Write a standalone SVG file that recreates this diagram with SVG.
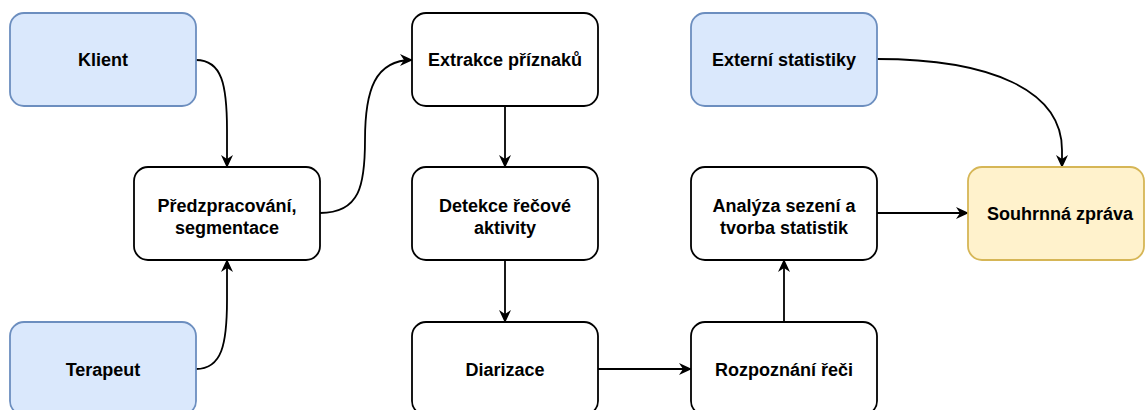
<svg xmlns="http://www.w3.org/2000/svg" width="1146" height="410" viewBox="0 0 1146 410">
  <style>
    .box { stroke-width: 1.8; }
    .plain { fill: #ffffff; stroke: #000000; }
    .input { fill: #dae8fc; stroke: #6c8ebf; }
    .output { fill: #fff2cc; stroke: #d6b656; }
    .label { font-family: "Liberation Sans", Arial, sans-serif; font-size: 18px; font-weight: bold; fill: #000000; text-anchor: middle; }
    .edge { fill: none; stroke: #000000; stroke-width: 1.8; marker-end: url(#arrow); }
  </style>
  <defs>
    <marker id="arrow" viewBox="0 0 13 12" refX="12" refY="6" markerWidth="13" markerHeight="12" markerUnits="userSpaceOnUse" orient="auto">
      <path d="M0,0 L13,6 L0,12 L4,6 Z" fill="#000000"/>
    </marker>
  </defs>

  <rect width="1146" height="410" fill="#ffffff"/>

  <g id="connectors">
    <path class="edge" d="M196,60 C222,60 227,85 227,130 L227,167"/>
    <path class="edge" d="M196,369 C222,369 227,344 227,300 L227,260"/>
    <path class="edge" d="M320,213 C360,213 365,185 365,140 C365,90 375,60 412,60"/>
    <path class="edge" d="M505,106 L505,167"/>
    <path class="edge" d="M505,260 L505,322"/>
    <path class="edge" d="M598,369 L691,369"/>
    <path class="edge" d="M784,322 L784,260"/>
    <path class="edge" d="M877,213 L968,213"/>
    <path class="edge" d="M877,59 C990,59 1062,90 1062,150 L1062,167"/>
  </g>

  <g id="klient">
    <rect class="box input" x="10" y="13" width="186" height="93" rx="14" ry="14"/>
    <text class="label" x="103" y="66">Klient</text>
  </g>
  <g id="terapeut">
    <rect class="box input" x="10" y="322" width="186" height="93" rx="14" ry="14"/>
    <text class="label" x="103" y="375.5">Terapeut</text>
  </g>
  <g id="predzpracovani">
    <rect class="box plain" x="134" y="167" width="186" height="93" rx="14" ry="14"/>
    <text class="label" x="227" y="211.5">Předzpracování,</text>
    <text class="label" x="227" y="233.5">segmentace</text>
  </g>
  <g id="extrakce">
    <rect class="box plain" x="412" y="13" width="186" height="93" rx="14" ry="14"/>
    <text class="label" x="505" y="66">Extrakce příznaků</text>
  </g>
  <g id="detekce">
    <rect class="box plain" x="412" y="167" width="186" height="93" rx="14" ry="14"/>
    <text class="label" x="505" y="211.5">Detekce řečové</text>
    <text class="label" x="505" y="233.5">aktivity</text>
  </g>
  <g id="diarizace">
    <rect class="box plain" x="412" y="322" width="186" height="93" rx="14" ry="14"/>
    <text class="label" x="505" y="375.5">Diarizace</text>
  </g>
  <g id="externi">
    <rect class="box input" x="691" y="13" width="186" height="93" rx="14" ry="14"/>
    <text class="label" x="784" y="66">Externí statistiky</text>
  </g>
  <g id="analyza">
    <rect class="box plain" x="691" y="167" width="186" height="93" rx="14" ry="14"/>
    <text class="label" x="784" y="211.5">Analýza sezení a</text>
    <text class="label" x="784" y="233.5">tvorba statistik</text>
  </g>
  <g id="rozpoznani">
    <rect class="box plain" x="691" y="322" width="186" height="93" rx="14" ry="14"/>
    <text class="label" x="784" y="375.5">Rozpoznání řeči</text>
  </g>
  <g id="souhrnna">
    <rect class="box output" x="968" y="167" width="176" height="93" rx="14" ry="14"/>
    <text class="label" x="1060" y="220">Souhrnná zpráva</text>
  </g>
</svg>
